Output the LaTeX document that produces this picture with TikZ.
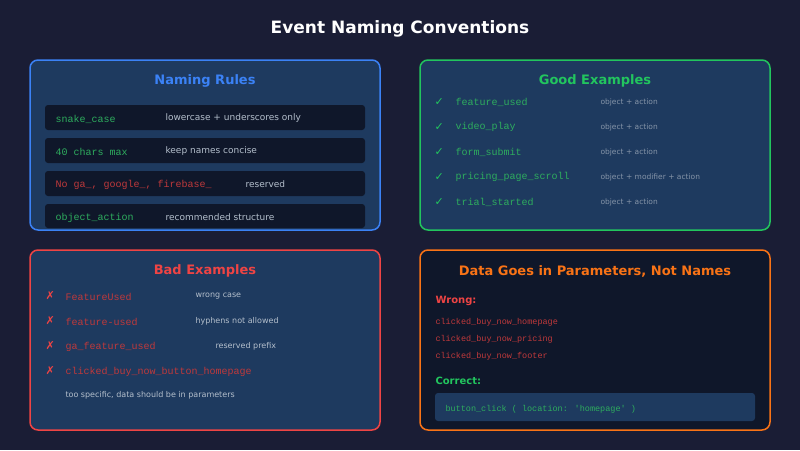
\documentclass[tikz,border=0pt]{standalone}
\usepackage{fontspec}
\setmainfont{DejaVu Sans}
\newfontfamily\codef{Liberation Mono}
\begin{document}
\begin{tikzpicture}[x=1pt,y=-1pt,
  panel/.style={draw,line width=1.5pt,rounded corners=8pt},
  row/.style={fill=rowc,rounded corners=3pt},
  ttl/.style={font=\bfseries\fontsize{13}{15}\selectfont},
  code/.style={anchor=west,font=\codef\fontsize{10}{12}\selectfont},
  desc/.style={anchor=west,font=\fontsize{9}{11}\selectfont,text=descc},
  small/.style={anchor=west,font=\fontsize{7.5}{9}\selectfont,text=smallc},
  sym/.style={anchor=west,font=\fontsize{11}{13}\selectfont}]
\definecolor{bgc}{HTML}{1A1D35}
\definecolor{panelc}{HTML}{1E3A5F}
\definecolor{rowc}{HTML}{0F172A}
\definecolor{bluec}{HTML}{3B82F6}
\definecolor{greenc}{HTML}{22C55E}
\definecolor{redc}{HTML}{EF4444}
\definecolor{orangec}{HTML}{F97316}
\definecolor{codeg}{HTML}{2EAD5E}
\definecolor{coder}{HTML}{C0393B}
\definecolor{descc}{HTML}{B4BFCC}
\definecolor{smallc}{HTML}{8594A8}
\fill[bgc] (0,0) rectangle (800,450);
\node[font=\bfseries\fontsize{17}{20}\selectfont,text=white] (title) at (400,29) {Event Naming Conventions};
% panel 1
\draw[panel,bluec,fill=panelc] (30,60) rectangle (380,230);
\node[ttl,text=bluec] (t1) at (205,81) {Naming Rules};
\fill[row] (45,105) rectangle (365,130);
\fill[row] (45,138) rectangle (365,163);
\fill[row] (45,171) rectangle (365,196);
\fill[row] (45,204) rectangle (365,228);
\node[code,text=codeg] (a1) at (52,119) {snake\_case};
\node[desc] (b1) at (162,118) {lowercase + underscores only};
\node[code,text=codeg] (a2) at (52,152) {40 chars max};
\node[desc] (b2) at (162,151) {keep names concise};
\node[code,text=coder] (a3) at (52,185) {No ga\_, google\_, firebase\_};
\node[desc] (b3) at (242,184) {reserved};
\node[code,text=codeg] (a4) at (52,218) {object\_action};
\node[desc] (b4) at (162,217) {recommended structure};
% panel 2
\draw[panel,greenc,fill=panelc] (420,60) rectangle (770,230);
\node[ttl,text=greenc] (t2) at (595,81) {Good Examples};
\foreach \c/\d/\y [count=\i] in {feature\_used/object + action/102,video\_play/object + action/127,form\_submit/object + action/152,pricing\_page\_scroll/object + modifier + action/177,trial\_started/object + action/202}{
  \node[sym,text=greenc] (gm\i) at (431,\y) {✓};
  \node[code,text=codeg] (gc\i) at (452,\y) {\c};
  \node[small] (gd\i) at (597,\y) {\d};
}
% panel 3
\draw[panel,redc,fill=panelc] (30,250) rectangle (380,430);
\node[ttl,text=redc] (t3) at (205,271) {Bad Examples};
\foreach \c/\d/\x/\y [count=\i] in {FeatureUsed/wrong case/192/297,feature-used/hyphens not allowed/192/322,ga\_feature\_used/reserved prefix/212/347,clicked\_buy\_now\_button\_homepage//192/372}{
  \node[sym,text=redc] (bm\i) at (42,\y-1) {✗};
  \node[code,text=coder] (bc\i) at (62,\y) {\c};
  \node[small,font=\fontsize{8}{10}\selectfont,text=descc] (bd\i) at (\x,\y-1) {\d};
}
\node[small,font=\fontsize{8}{10}\selectfont,text=descc] (bx) at (62,395) {too specific, data should be in parameters};
% panel 4
\draw[panel,orangec,fill=rowc] (420,250) rectangle (770,430);
\node[ttl,text=orangec] (t4) at (595,271) {Data Goes in Parameters, Not Names};
\node[anchor=west,font=\bfseries\fontsize{10}{12}\selectfont,text=redc] (w) at (432,301) {Wrong:};
\node[code,font=\codef\fontsize{8.5}{10}\selectfont,text=coder] (w1) at (432,322) {clicked\_buy\_now\_homepage};
\node[code,font=\codef\fontsize{8.5}{10}\selectfont,text=coder] (w2) at (432,339) {clicked\_buy\_now\_pricing};
\node[code,font=\codef\fontsize{8.5}{10}\selectfont,text=coder] (w3) at (432,356) {clicked\_buy\_now\_footer};
\node[anchor=west,font=\bfseries\fontsize{10}{12}\selectfont,text=greenc] (c) at (432,381) {Correct:};
\fill[panelc,rounded corners=3pt] (435,393) rectangle (755,421);
\node[code,font=\codef\fontsize{8.5}{10}\selectfont,text=codeg] (cc) at (442,409) {button\_click ( location: 'homepage' )};
\end{tikzpicture}
\end{document}
